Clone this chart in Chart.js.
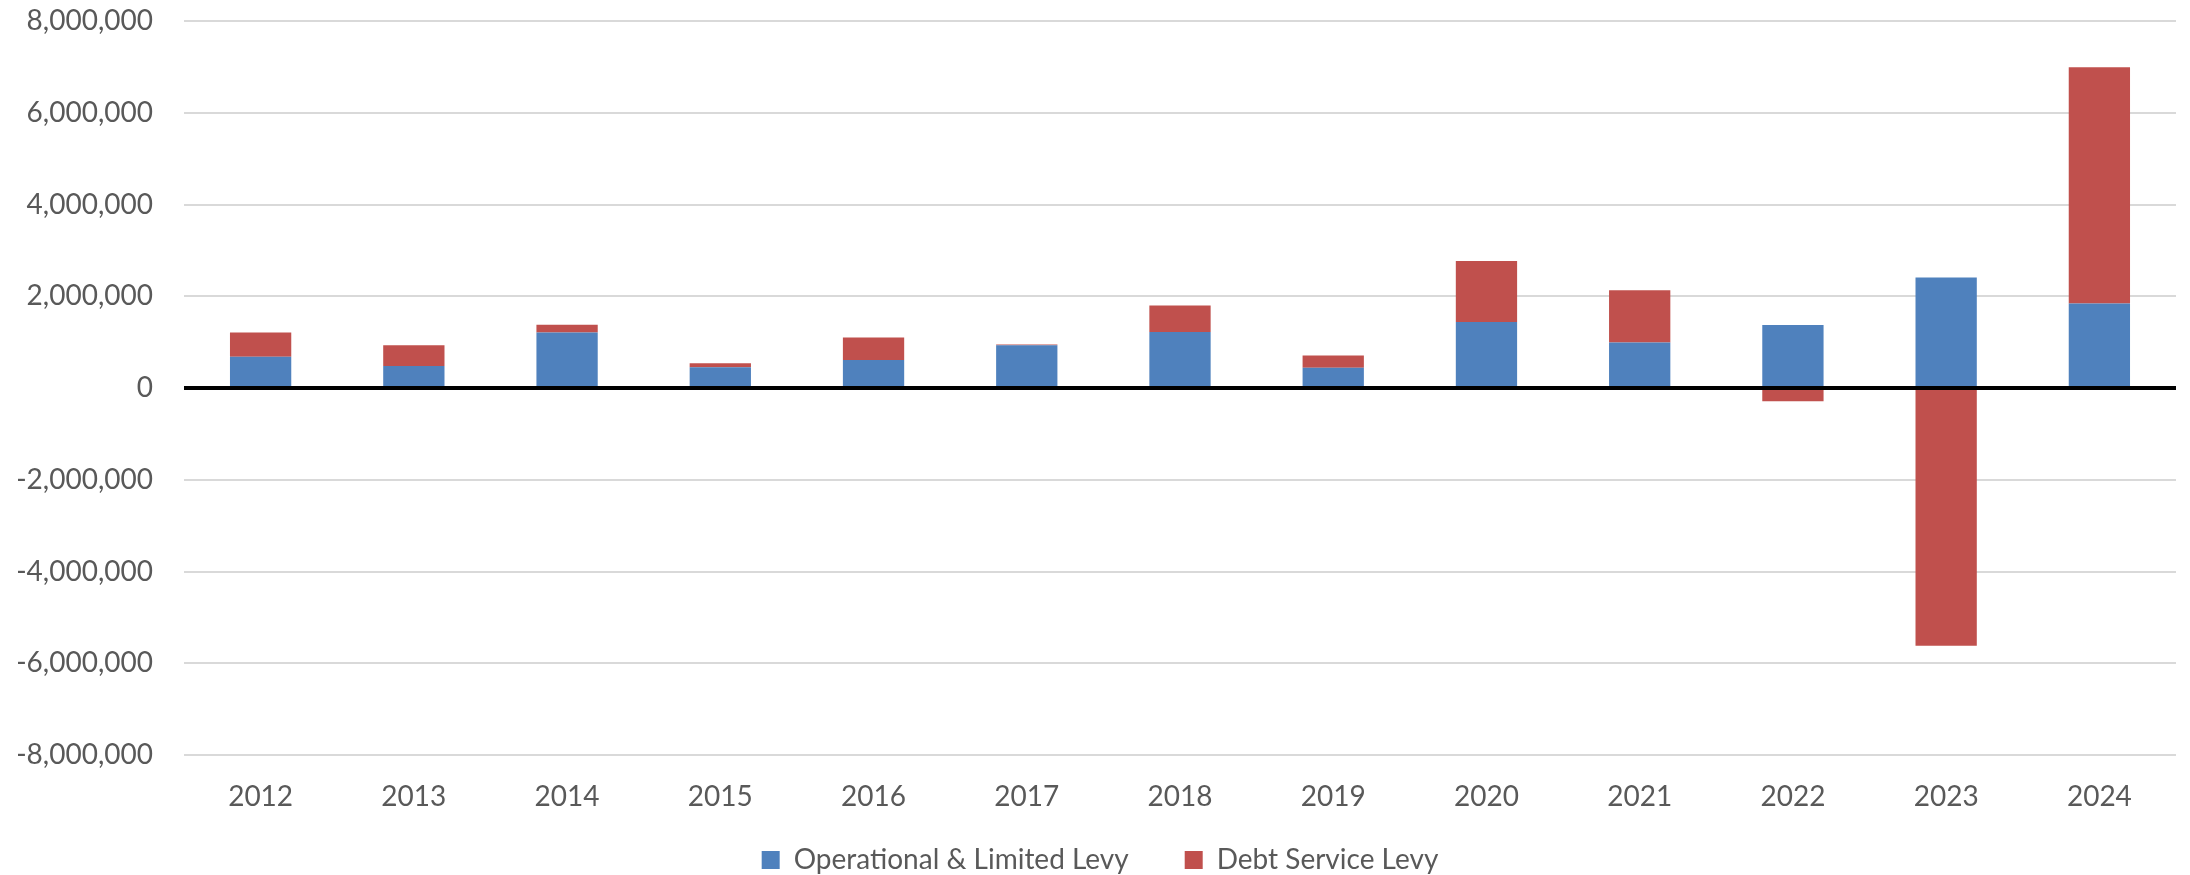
<!DOCTYPE html>
<html>
<head>
<meta charset="utf-8">
<script src="https://cdn.jsdelivr.net/npm/chart.js@4/dist/chart.umd.min.js"></script>
<style>
html,body{margin:0;padding:0;background:#fff;}
#wrap{width:2190px;height:875px;position:relative;}
</style>
</head>
<body>
<div id="wrap"><canvas id="c" width="2190" height="875"></canvas></div>
<script>
const categories = ['2012','2013','2014','2015','2016','2017','2018','2019','2020','2021','2022','2023','2024'];
const operationalLevy = [680000, 480000, 1210000, 450000, 610000, 930000, 1220000, 440000, 1440000, 990000, 1375000, 2410000, 1840000];
const debtServiceLevy = [530000, 450000, 170000, 90000, 490000, 20000, 580000, 270000, 1330000, 1140000, -290000, -5620000, 5150000];
const seriesNames = ['Operational & Limited Levy', 'Debt Service Levy'];
const yTicks = [-8000000, -6000000, -4000000, -2000000, 0, 2000000, 4000000, 6000000, 8000000];

const FONT = 'Lato, "Open Sans", sans-serif';
const TEXT = '#595959';

const zeroLine = {
  id: 'zeroLine',
  afterDatasetsDraw(chart) {
    const y = chart.scales.y.getPixelForValue(0);
    const ctx = chart.ctx;
    ctx.save();
    ctx.strokeStyle = '#000000';
    ctx.lineWidth = 4;
    ctx.beginPath();
    ctx.moveTo(chart.chartArea.left, y);
    ctx.lineTo(chart.chartArea.right, y);
    ctx.stroke();
    ctx.restore();
  }
};

// Keep the legend's layout box short while allowing a wide gap between its items.
const legendPlacement = {
  id: 'legendPlacement',
  beforeLayout(chart) {
    const lg = chart.legend;
    if (lg && !lg._patchedFit) {
      const orig = lg.fit.bind(lg);
      lg.fit = function () { orig(); this.height = 60; };
      lg._patchedFit = true;
    }
  },
  afterLayout(chart) {
    const lg = chart.legend;
    if (lg) {
      lg.top -= 25;
      lg.left += 12;
      lg.right += 12;
    }
  }
};

new Chart(document.getElementById('c'), {
  type: 'bar',
  data: {
    labels: categories,
    datasets: [
      { label: seriesNames[0], data: operationalLevy, backgroundColor: '#4F81BD', borderWidth: 0 },
      { label: seriesNames[1], data: debtServiceLevy, backgroundColor: '#C0504D', borderWidth: 0 }
    ]
  },
  options: {
    responsive: false,
    animation: false,
    devicePixelRatio: 1,
    layout: { padding: { top: 21, right: 14, left: 0, bottom: 0 } },
    datasets: { bar: { categoryPercentage: 1.0, barPercentage: 0.4 } },
    plugins: {
      tooltip: { enabled: false },
      legend: {
        position: 'bottom',
        labels: {
          font: { family: FONT, size: 28 },
          color: TEXT,
          boxWidth: 18,
          boxHeight: 18,
          padding: 56
        }
      }
    },
    scales: {
      x: {
        stacked: true,
        grid: { display: false, drawTicks: false },
        border: { display: false },
        ticks: { font: { family: FONT, size: 28 }, color: TEXT, padding: 25 },
        afterFit(scale) { scale.height = 60; }
      },
      y: {
        stacked: true,
        min: -8000000,
        max: 8000000,
        afterBuildTicks(scale) { scale.ticks = yTicks.map(v => ({ value: v })); },
        grid: {
          drawTicks: true,
          tickLength: 31,
          tickColor: 'rgba(0,0,0,0)',
          color: ctx => (ctx.tick && ctx.tick.value === 0) ? 'rgba(0,0,0,0)' : '#D9D9D9',
          lineWidth: 2
        },
        border: { display: false },
        ticks: {
          font: { family: FONT, size: 28 },
          color: TEXT,
          padding: 0,
          callback: v => Number(v).toLocaleString('en-US')
        },
        afterFit(scale) { scale.width = 184; }
      }
    }
  },
  plugins: [zeroLine, legendPlacement]
});
</script>
</body>
</html>
